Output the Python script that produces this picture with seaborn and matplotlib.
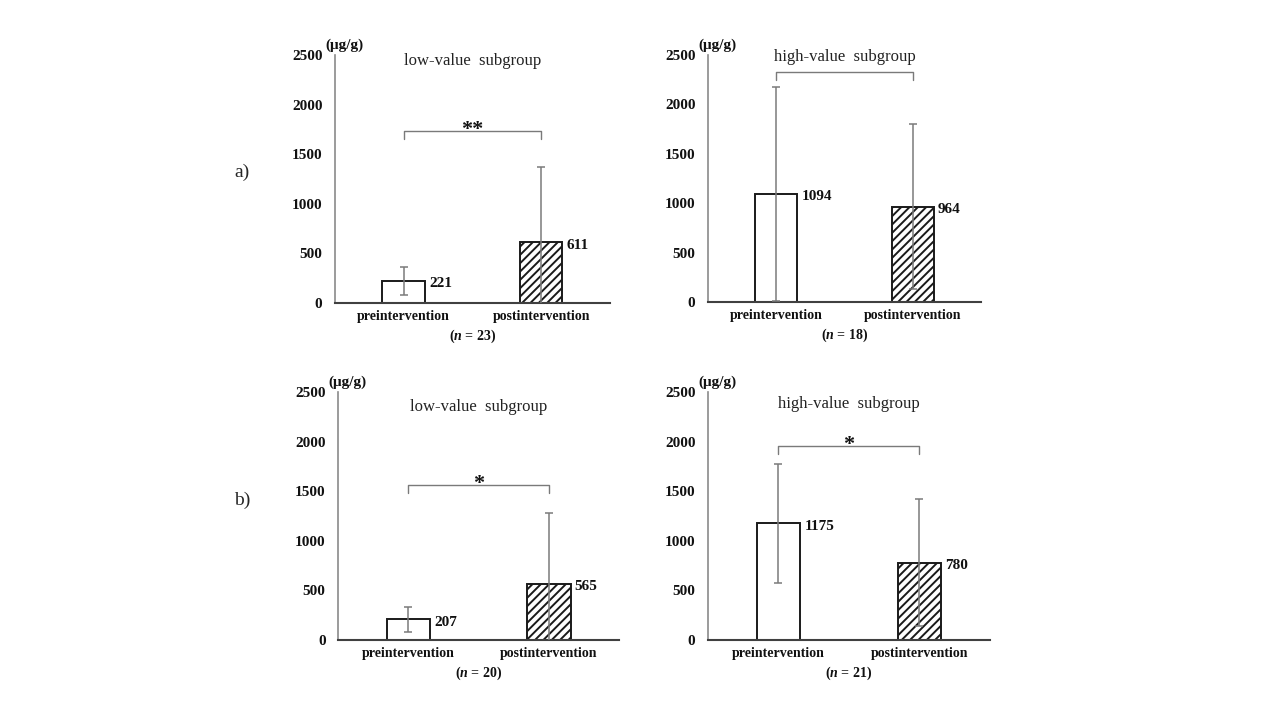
import matplotlib
matplotlib.use('Agg')
import matplotlib.pyplot as plt
import pandas as pd
import seaborn as sns

sns.set_theme(style='white')
plt.rcParams['font.family'] = ['Liberation Serif', 'DejaVu Serif']
plt.rcParams['hatch.linewidth'] = 1.4
plt.rcParams['mathtext.fontset'] = 'custom'
plt.rcParams['mathtext.rm'] = 'Liberation Serif:bold'
plt.rcParams['mathtext.it'] = 'Liberation Serif:bold:italic'

groups = ['preintervention', 'postintervention']

# a) low / high value subgroups
means_a_low = [221, 611]
sd_a_low = [140, 763]
means_a_high = [1094, 964]
sd_a_high = [1085, 834]

# b) low / high value subgroups
means_b_low = [207, 565]
sd_b_low = [127, 712]
means_b_high = [1175, 780]
sd_b_high = [600, 640]

panel_titles = ['low-value  subgroup', 'high-value  subgroup',
                'low-value  subgroup', 'high-value  subgroup']
n_values = [23, 18, 20, 21]
bracket_y = [1730, 2325, 1560, 1955]
stars = ['**', '', '*', '*']
y_ticks = [0, 500, 1000, 1500, 2000, 2500]

panels = [
    (means_a_low, sd_a_low),
    (means_a_high, sd_a_high),
    (means_b_low, sd_b_low),
    (means_b_high, sd_b_high),
]

# axes positions in figure fractions (left, bottom, width, height)
positions = [
    [0.2617, 0.5792, 0.2148, 0.3444],
    [0.5531, 0.5806, 0.2133, 0.3431],
    [0.2641, 0.1111, 0.2195, 0.3444],
    [0.5531, 0.1111, 0.2203, 0.3444],
]
title_y = [0.975, 0.99, 0.94, 0.951]

fig = plt.figure(figsize=(12.8, 7.2), dpi=100)

for i, (means, sds) in enumerate(panels):
    ax = fig.add_axes(positions[i])
    df = pd.DataFrame({'group': groups, 'value': means, 'sd': sds})

    sns.barplot(data=df, x='group', y='value', ax=ax, color='white',
                edgecolor='#1a1a1a', linewidth=1.4, width=0.31,
                errorbar=None, saturation=1)
    ax.patches[1].set_hatch('////')

    # error bars (SD)
    ax.errorbar(range(len(groups)), df['value'], yerr=df['sd'], fmt='none',
                ecolor='#7a7a7a', elinewidth=1.1, capsize=3, capthick=1.1,
                zorder=5)

    # value labels next to bars
    for j, v in enumerate(df['value']):
        ax.annotate(str(v), xy=(j + 0.155, v), xytext=(3, -2),
                    textcoords='offset points', va='center', ha='left',
                    fontsize=11, fontweight='bold', color='#111111')

    # significance bracket
    by = bracket_y[i]
    ax.plot([0, 0, 1, 1], [by - 78, by, by, by - 78], color='#7a7a7a',
            linewidth=1.0, clip_on=False)
    if stars[i]:
        ax.annotate(stars[i], xy=(0.5, by), xytext=(0, 1),
                    textcoords='offset points', ha='center', va='center',
                    fontsize=16, fontweight='bold', color='#111111')

    ax.set_xlim(-0.5, 1.5)
    ax.set_ylim(0, 2500)
    ax.set_yticks(y_ticks)
    ax.set_yticklabels([str(t) for t in y_ticks], fontsize=11,
                       fontweight='bold', color='#111111')
    ax.set_xticks(range(len(groups)))
    ax.set_xticklabels(groups, fontsize=10, fontweight='bold', color='#111111')
    ax.tick_params(axis='y', length=0, pad=9)
    ax.tick_params(axis='x', length=0, pad=5)
    ax.set_xlabel('')
    ax.set_ylabel('')

    for side in ['top', 'right']:
        ax.spines[side].set_visible(False)
    ax.spines['left'].set_color('#8a8a8a')
    ax.spines['left'].set_linewidth(1.2)
    ax.spines['bottom'].set_color('#404040')
    ax.spines['bottom'].set_linewidth(1.5)

    ax.set_title(panel_titles[i], fontsize=12, color='#222222',
                 y=title_y[i], va='center', pad=0)
    ax.text(0.035, 1.04, '(μg/g)', transform=ax.transAxes, ha='center',
            va='center', fontsize=11, fontweight='bold', color='#111111')
    ax.text(0.5, -0.135, r'($\mathit{n}$ = %d)' % n_values[i],
            transform=ax.transAxes, ha='center', va='center', fontsize=10,
            fontweight='bold', color='#111111')

fig.text(0.189, 1 - 172 / 720, 'a)', fontsize=14, va='center', ha='center')
fig.text(0.189, 1 - 500 / 720, 'b)', fontsize=14, va='center', ha='center')

fig.savefig('out.png', dpi=100, facecolor='white')
